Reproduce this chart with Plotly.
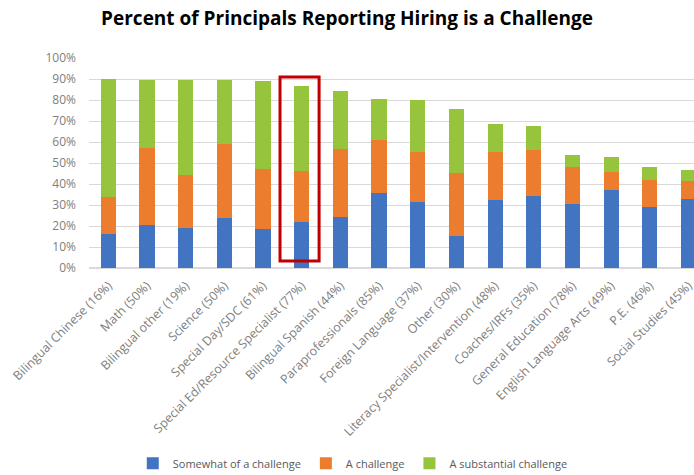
import plotly.graph_objects as go

# Values (fractions of principals)
categories = [
    "Bilingual Chinese (16%)", "Math (50%)", "Bilingual other (19%)", "Science (50%)",
    "Special Day/SDC (61%)", "Special Ed/Resource Specialist (77%)", "Bilingual Spanish (44%)",
    "Paraprofessionals (85%)", "Foreign Language (37%)", "Other (30%)",
    "Literacy Specialist/Intervention (48%)", "Coaches/IRFs (35%)", "General Education (78%)",
    "English Language Arts (49%)", "P.E. (46%)", "Social Studies (45%)",
]
somewhat = [0.164, 0.207, 0.192, 0.240, 0.186, 0.218, 0.245, 0.357, 0.314, 0.151,
            0.322, 0.341, 0.307, 0.370, 0.292, 0.327]
challenge = [0.174, 0.364, 0.253, 0.350, 0.287, 0.246, 0.320, 0.253, 0.240, 0.303,
             0.230, 0.223, 0.172, 0.086, 0.129, 0.086]
substantial = [0.564, 0.326, 0.449, 0.304, 0.416, 0.403, 0.280, 0.193, 0.245, 0.305,
               0.136, 0.112, 0.058, 0.073, 0.059, 0.056]

series = [
    ("Somewhat of a challenge", somewhat, "#4274C1"),
    ("A challenge", challenge, "#EC7D2E"),
    ("A substantial challenge", substantial, "#96C43D"),
]

fig = go.Figure()
for name, vals, color in series:
    fig.add_trace(go.Bar(
        x=categories,
        y=vals,
        name=name,
        marker=dict(color=color, line=dict(width=0)),
        hovertemplate="%{x}<br>" + name + ": %{y:.0%}<extra></extra>",
    ))

# highlight box around Special Ed bar
fig.add_shape(
    type="rect", xref="x", yref="y",
    x0=4.44, x1=5.45, y0=0.033, y1=0.909,
    line=dict(color="#C00000", width=3),
)

fig.update_layout(
    barmode="stack",
    bargap=0.61,
    width=694,
    height=475,
    margin=dict(l=89, r=0, t=58, b=207, autoexpand=False),
    paper_bgcolor="white",
    plot_bgcolor="white",
    font=dict(family="Open Sans", color="#7F7F7F", size=11),
    title=dict(
        text="<b>Percent of Principals Reporting Hiring is a Challenge</b>",
        x=0.5, xanchor="center", y=0.962, yanchor="middle",
        font=dict(family="Open Sans", size=19, color="black"),
    ),
    legend=dict(
        orientation="h",
        traceorder="normal",
        x=0.436, xanchor="center",
        y=-0.93, yanchor="middle",
        font=dict(size=11, color="#595959"),
    ),
    xaxis=dict(
        range=[-0.5, 15.145],
        tickangle=-45,
        automargin=False,
        showgrid=False,
        showline=False,
        ticks="",
        ticklabelstandoff=7,
        tickfont=dict(size=12.4, color="#808080"),
    ),
    yaxis=dict(
        range=[0, 1],
        tickformat=".0%",
        dtick=0.1,
        automargin=False,
        showgrid=True,
        gridcolor="#D9D9D9",
        gridwidth=1,
        zeroline=True,
        zerolinecolor="#D9D9D9",
        ticks="",
        ticklabelstandoff=12,
        tickfont=dict(size=12, color="#808080"),
    ),
)

# drop the default page margin so the 694x475 figure fills the window exactly
fig.write_html(
    "out.html",
    config={"displayModeBar": False},
    post_script="document.body.style.margin='0';document.body.style.overflow='hidden';",
)
